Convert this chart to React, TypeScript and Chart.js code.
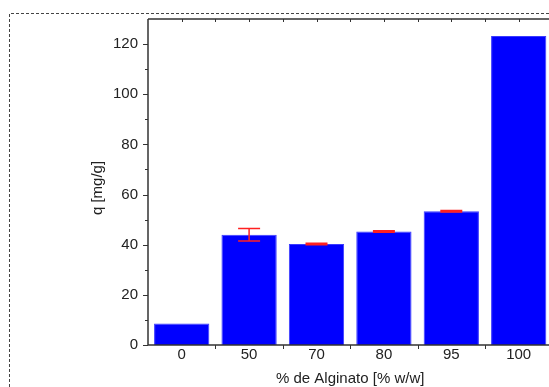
import React, { useEffect, useRef } from "react";
import { Chart, registerables } from "chart.js";
Chart.register(...registerables);

const categories = ["0", "50", "70", "80", "95", "100"];
const qValues = [8.6, 44.0, 40.3, 45.3, 53.3, 123.2];
const qErrors = [0, 2.5, 0.3, 0.3, 0.3, 0];
const yMajorTicks = [0, 20, 40, 60, 80, 100, 120];
const yMinorTicks = [10, 30, 50, 70, 90, 110];
const xTitle = "% de Alginato [% w/w]";
const yTitle = "q [mg/g]";

const FONT = "'Liberation Sans', Arial, sans-serif";

const decorPlugin = {
  id: "decor",
  afterDatasetsDraw(chart: any) {
    const ctx = chart.ctx;
    const { left, right, top, bottom } = chart.chartArea;
    const xs = chart.scales.x;
    const ys = chart.scales.y;
    const meta = chart.getDatasetMeta(0);
    ctx.save();
    // error bars
    ctx.strokeStyle = "#ff2020";
    ctx.lineWidth = 1.5;
    qErrors.forEach((e, i) => {
      if (!e) return;
      const x = meta.data[i].x;
      const y1 = ys.getPixelForValue(qValues[i] + e);
      const y2 = ys.getPixelForValue(qValues[i] - e);
      ctx.beginPath();
      ctx.moveTo(x, y1);
      ctx.lineTo(x, y2);
      ctx.moveTo(x - 11, y1);
      ctx.lineTo(x + 11, y1);
      ctx.moveTo(x - 11, y2);
      ctx.lineTo(x + 11, y2);
      ctx.stroke();
    });
    // frame
    ctx.strokeStyle = "#333";
    ctx.lineWidth = 1.5;
    ctx.beginPath();
    ctx.moveTo(left, top);
    ctx.lineTo(left, bottom);
    ctx.lineTo(right, bottom);
    ctx.moveTo(left, top);
    ctx.lineTo(right, top);
    ctx.stroke();
    ctx.lineWidth = 1;
    ctx.beginPath();
    yMajorTicks.forEach((v) => {
      const y = Math.round(ys.getPixelForValue(v)) + 0.5;
      ctx.moveTo(left - 5, y);
      ctx.lineTo(left, y);
    });
    yMinorTicks.forEach((v) => {
      const y = Math.round(ys.getPixelForValue(v)) + 0.5;
      ctx.moveTo(left - 3, y);
      ctx.lineTo(left, y);
    });
    categories.forEach((_, i) => {
      const xc = xs.getPixelForValue(i);
      const half = (xs.getPixelForValue(1) - xs.getPixelForValue(0)) / 2;
      const xb = Math.round(xc + half) + 0.5;
      ctx.moveTo(xb, bottom);
      ctx.lineTo(xb, bottom + 4);
      ctx.moveTo(xb, top);
      ctx.lineTo(xb, top + 3);
      const xcc = Math.round(xc) + 0.5;
      ctx.moveTo(xcc, top);
      ctx.lineTo(xcc, top + 3);
    });
    ctx.stroke();
    // dashed outer border
    ctx.strokeStyle = "#444";
    ctx.setLineDash([3, 2]);
    ctx.beginPath();
    ctx.moveTo(9.5, 387);
    ctx.lineTo(9.5, 13.5);
    ctx.lineTo(chart.width, 13.5);
    ctx.stroke();
    ctx.setLineDash([]);
    // titles
    ctx.fillStyle = "#222";
    ctx.font = `15px ${FONT}`;
    ctx.textAlign = "center";
    ctx.textBaseline = "alphabetic";
    ctx.fillText(xTitle, (left + right) / 2, 383);
    ctx.translate(98, 188);
    ctx.rotate(-Math.PI / 2);
    ctx.textBaseline = "middle";
    ctx.fillText(yTitle, 0, 0);
    ctx.restore();
  },
};

export default function App() {
  const ref = useRef<HTMLCanvasElement | null>(null);
  useEffect(() => {
    if (!ref.current) return;
    const chart = new Chart(ref.current, {
      type: "bar",
      data: {
        labels: categories,
        datasets: [
          {
            data: qValues,
            backgroundColor: "#0000ff",
            borderColor: "#3a3aff",
            borderWidth: 1,
            categoryPercentage: 1,
            barPercentage: 0.82,
          },
        ],
      },
      options: {
        animation: false,
        responsive: false,
        maintainAspectRatio: false,
        layout: { padding: { top: 17, left: 0, right: 47.6, bottom: 0 } },
        plugins: { legend: { display: false }, tooltip: { enabled: false } },
        scales: {
          x: {
            grid: { display: false, drawTicks: false },
            border: { display: false },
            ticks: { color: "#222", font: { family: FONT, size: 15 }, padding: 1, maxRotation: 0 },
            afterFit: (s: any) => {
              s.height = 42;
            },
          },
          y: {
            min: 0,
            max: 130,
            grid: { display: false, drawTicks: false },
            border: { display: false },
            ticks: { stepSize: 20, color: "#222", font: { family: FONT, size: 15 }, padding: 10 },
            afterBuildTicks: (s: any) => {
              s.ticks = yMajorTicks.map((v) => ({ value: v }));
            },
            afterFit: (s: any) => {
              s.width = 148;
            },
          },
        },
      },
      plugins: [decorPlugin],
    });
    return () => chart.destroy();
  }, []);
  return (
    <div style={{ position: "fixed", left: 0, top: 0, width: 549, height: 387, overflow: "hidden", background: "#fff" }}>
      <canvas ref={ref} width={600} height={387} style={{ display: "block" }} />
    </div>
  );
}
